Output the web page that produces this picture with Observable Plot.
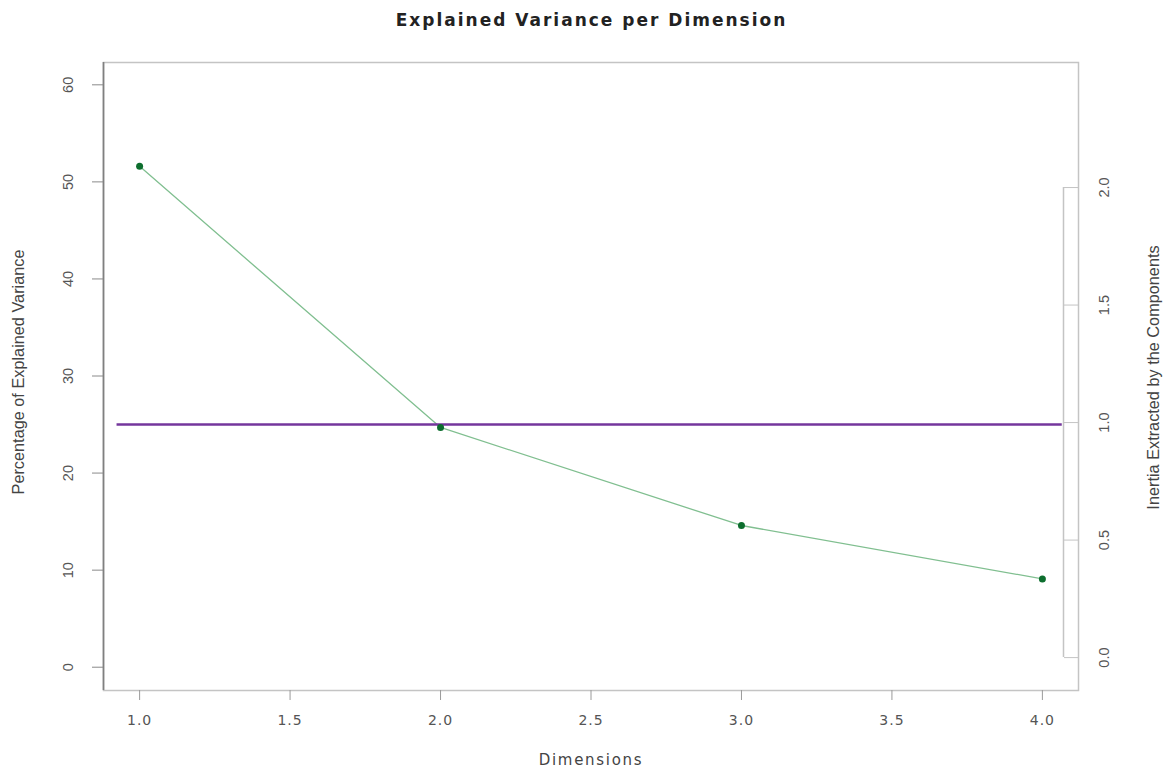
<!DOCTYPE html>
<html><head><meta charset="utf-8">
<script src="https://cdn.jsdelivr.net/npm/d3@7"></script>
<script src="https://cdn.jsdelivr.net/npm/@observablehq/plot@0.6"></script>
<style>
body{margin:0;background:#fff;}
#wrap{position:relative;width:1171px;height:772px;overflow:hidden;background:#fff;}
#title{position:absolute;left:6px;top:0;width:1171px;height:40px;line-height:40px;text-align:center;font-family:"DejaVu Sans";font-weight:bold;font-size:17px;letter-spacing:2px;color:#222;}
#main,#right{position:absolute;left:0;top:40px;}
g[aria-label="x-axis tick label"] text{letter-spacing:1px;}
</style></head>
<body><div id="wrap"><div id="title">Explained Variance per Dimension</div><div id="main"></div><div id="right"></div></div>
<script>
// ---- data ----
const dims = [1, 2, 3, 4];
const pctVar = [51.6, 24.7, 14.6, 9.1];
const xTicks = [1, 1.5, 2, 2.5, 3, 3.5, 4];
const leftTicks = [0, 10, 20, 30, 40, 50, 60];
const rightTicks = [0, 0.5, 1, 1.5, 2];
const kaiserPct = [25];
const kaiserSpan = [0.925, 4.066];
const xLabel = "Dimensions";
const yLabel = "Percentage of Explained Variance";
const y2Label = "Inertia Extracted by the Components";

const rows = dims.map((d, i) => ({dim: d, pct: pctVar[i]}));
const W = 1171, H = 732;
const tickFont = "Liberation Sans";

const mainPlot = Plot.plot({
  width: W, height: H,
  marginTop: 22, marginBottom: 82, marginLeft: 103, marginRight: 93,
  style: {background: "transparent", overflow: "visible"},
  x: {domain: [0.88, 4.12]},
  y: {domain: [-2.4, 62.3]},
  marks: [
    Plot.frame({stroke: "#c4c4c4", strokeWidth: 1.5}),
    Plot.ruleX([0.88], {stroke: "#808080", strokeWidth: 1.7}),
    Plot.axisY({ticks: leftTicks, tickSize: 11, tickPadding: 20, tickRotate: -90,
      tickFormat: d => String(d), label: null, stroke: "#8a8a8a", fill: "#555",
      fontSize: 14.5, fontFamily: tickFont}),
    Plot.axisX({ticks: xTicks, tickSize: 10, tickPadding: 15, tickFormat: d => d.toFixed(1),
      label: null, stroke: "#9a9a9a", fill: "#555", fontSize: 14, fontFamily: "DejaVu Sans"}),
    Plot.line(rows, {x: "dim", y: "pct", stroke: "#80bf90", strokeWidth: 1.3}),
    Plot.ruleY(kaiserPct, {x1: kaiserSpan[0], x2: kaiserSpan[1], stroke: "#74369c", strokeWidth: 2.5}),
    Plot.dot(rows, {x: "dim", y: "pct", r: 3.5, fill: "#0d6e2e"}),
    Plot.text([xLabel], {frameAnchor: "bottom", dy: 74, fontSize: 15, fontFamily: "DejaVu Sans", fill: "#444"}),
    Plot.text([yLabel], {frameAnchor: "left", textAnchor: "middle", dx: -85, dy: -4.5, rotate: -90,
      fontSize: 16.3, fontFamily: tickFont, fill: "#444"})
  ]
});
for (const t of mainPlot.querySelectorAll("text")) if (t.textContent === xLabel) t.style.letterSpacing = "1.7px";
document.getElementById("main").appendChild(mainPlot);

const rightPlot = Plot.plot({
  width: W, height: H,
  marginTop: 22, marginBottom: 82, marginLeft: 103, marginRight: 108,
  style: {background: "transparent", overflow: "visible"},
  x: {domain: [0, 1], axis: null},
  y: {domain: [-0.14, 2.532], axis: null},
  marks: [
    Plot.ruleX([1], {y1: rightTicks[0], y2: rightTicks[rightTicks.length - 1], stroke: "#c4c4c4", strokeWidth: 1.5}),
    Plot.axisY({anchor: "right", ticks: rightTicks, tickSize: 15, tickPadding: 20, tickRotate: -90, lineAnchor: "top",
      tickFormat: d => d.toFixed(1), label: null, stroke: "#c4c4c4", fill: "#555",
      fontSize: 14.5, fontFamily: tickFont}),
    Plot.text([y2Label], {frameAnchor: "right", textAnchor: "middle", dx: 90, dy: 1, rotate: -90,
      fontSize: 16.3, fontFamily: tickFont, fill: "#444"})
  ]
});
document.getElementById("right").appendChild(rightPlot);
</script>
</body></html>
